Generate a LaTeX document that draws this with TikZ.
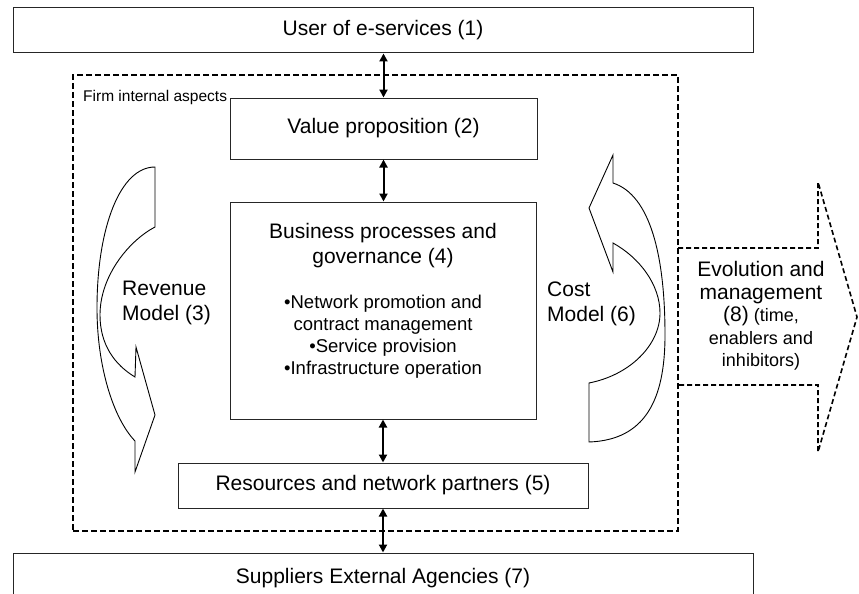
\documentclass[tikz,border=0pt]{standalone}
\usepackage{fontspec}
\setmainfont{Liberation Sans}
\usetikzlibrary{arrows.meta}

\tikzset{
  box/.style={draw=black!85, line width=1pt, fill=white, inner sep=0pt},
  frame/.style={draw=black, line width=2pt, dash pattern=on 6pt off 3pt, inner sep=0pt},
  evoarrow/.style={draw=black, line width=1.6pt, dash pattern=on 5pt off 3pt, line join=miter},
  curvedband/.style={draw=black, line width=0.9pt, fill=white, line join=miter},
  link/.style={{Triangle[length=8pt,width=8pt]}-{Triangle[length=8pt,width=8pt]}, line width=2pt},
  big/.style={font=\fontsize{21}{25}\selectfont},
  lbl/.style={inner sep=0pt},
}

\begin{document}
\begin{tikzpicture}[x=1pt,y=-1pt]
\useasboundingbox (0,0) rectangle (859,594);
\clip (0,0) rectangle (859,594);
\fill[white] (0,0) rectangle (859,594);

% dashed frame around the firm's internal aspects
\node[frame, minimum width=605pt, minimum height=456pt] (firm) at (375.5,303) {};
\node[lbl, anchor=west, font=\fontsize{15.5}{18}\selectfont] (firmlabel) at (83,97) {Firm internal aspects};

% evolution arrow leaving the frame to the right
\draw[evoarrow] (678,248) -- (818,248) -- (818,182) -- (857,317) -- (818,452) -- (818,385) -- (678,385);
\node[lbl, align=center, font=\fontsize{18}{22.5}\selectfont] (evo) at (761,316)
  {{\fontsize{21}{22.5}\selectfont Evolution and}\\
   {\fontsize{21}{22.5}\selectfont management}\\
   {\fontsize{21}{22.5}\selectfont (8)} (time,\\
   enablers and\\
   inhibitors)};

% external parties
\node[box, big, minimum width=740pt, minimum height=45pt] (user) at (383,30.5) {User of e-services (1)};
\node[box, minimum width=740pt, minimum height=50pt] (suppliers) at (383,578) {};
\node[lbl, big] (supplierslabel) at (383,578) {Suppliers External Agencies (7)};

% internal building blocks
\node[box, big, minimum width=307pt, minimum height=61pt] (value) at (383.5,128.5) {Value proposition (2)};
\node[box, minimum width=306pt, minimum height=217pt] (business) at (383,310.5) {};
\node[lbl, big, align=center] (businesstitle) at (383,245.5) {Business processes and\\governance (4)};
\node[lbl, align=center, font=\fontsize{18.5}{22}\selectfont] (businesslist) at (383,337)
  {•Network promotion and\\contract management\\•Service provision\\•Infrastructure operation};
\node[box, big, minimum width=410pt, minimum height=45pt] (resources) at (383,485.5) {Resources and network partners (5)};

% revenue model: curved band with its head pointing down
\path[curvedband] (155,167) .. controls (120,167) and (97,228) .. (97,308)
  .. controls (97,366) and (113,418) .. (135,441)
  -- (135,472) -- (155,415) -- (136,347) -- (135,377)
  .. controls (115,365) and (100,345) .. (100,315)
  .. controls (100,275) and (130,240) .. (155,227) -- cycle;
\node[lbl, big, align=left, anchor=west] (revenue) at (122,302.5) {Revenue\\Model (3)};

% cost model: curved band with its head pointing up
\path[curvedband] (613,155) -- (613,183)
  .. controls (650,195) and (665,255) .. (665,335)
  .. controls (665,400) and (645,440) .. (589,442)
  -- (589,383)
  .. controls (630,375) and (660,345) .. (660,313)
  .. controls (660,285) and (640,258) .. (613,243)
  -- (613,272) -- (589,208) -- cycle;
\node[lbl, big, align=left, anchor=west] (cost) at (547,304) {Cost\\Model (6)};

% two-way links between the layers
\draw[link] (value.north |- user.south) -- (value.north);
\draw[link] (value.south) -- (value.south |- business.north);
\draw[link] (business.south) -- (business.south |- resources.north);
\draw[link] (resources.south) -- (resources.south |- suppliers.north);
\end{tikzpicture}
\end{document}
